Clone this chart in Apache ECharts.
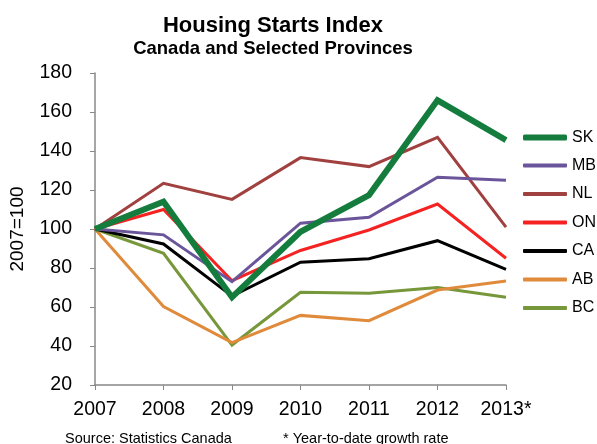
<!DOCTYPE html>
<html>
<head>
<meta charset="utf-8">
<script src="https://cdn.jsdelivr.net/npm/echarts@6/dist/echarts.min.js"></script>
<style>html,body{margin:0;padding:0;background:#fff}#c{width:597px;height:444px}</style>
</head>
<body>
<div id="c"></div>
<script>
var years = ['2007','2008','2009','2010','2011','2012','2013*'];
var SK = [100, 114, 65, 98.6, 117.4, 166, 145.6];
var MB = [100, 97, 73, 103, 106, 126.5, 125];
var NL = [100, 123.4, 115.2, 136.6, 132, 147, 101];
var ON = [100, 110, 73.5, 89, 99.5, 112.8, 85];
var CA = [100, 92.3, 65.6, 83, 84.8, 94, 79.3];
var AB = [100, 60.2, 41.7, 55.7, 53, 68.7, 73.3];
var BC = [100, 87.5, 40.5, 67.5, 67, 70, 65];

var FONT = '"Liberation Sans", Arial, sans-serif';
var COLORS = {SK:'#147c3c', MB:'#6b559a', NL:'#a0413f', ON:'#f52222', CA:'#000000', AB:'#e08a3c', BC:'#77973b'};
function mk(name, data, width, z) {
  return {name: name, type: 'line', data: data, symbol: 'none', z: z,
    lineStyle: {color: COLORS[name], width: width, join: 'miter'}, itemStyle: {color: COLORS[name]}};
}
var legendText = {fontFamily: FONT, fontSize: 16, color: '#000'};
var chart = echarts.init(document.getElementById('c'));
chart.setOption({
  animation: false,
  backgroundColor: '#fff',
  textStyle: {fontFamily: FONT},
  title: [{
    text: 'Housing Starts Index',
    subtext: 'Canada and Selected Provinces',
    left: 268, top: 10, textAlign: 'center',
    itemGap: 2,
    textStyle: {fontFamily: FONT, fontSize: 22, fontWeight: 'bold', color: '#000'},
    subtextStyle: {fontFamily: FONT, fontSize: 18.5, fontWeight: 'bold', color: '#000'}
  }, {
    text: 'Source: Statistics Canada', left: 60, top: 426,
    textStyle: {fontFamily: FONT, fontSize: 14.5, fontWeight: 'normal', color: '#000'}
  }, {
    text: '* Year-to-date growth rate', left: 278, top: 426,
    textStyle: {fontFamily: FONT, fontSize: 14.5, fontWeight: 'normal', color: '#000'}
  }],
  legend: [{
    orient: 'vertical', left: 518, top: 124.5, padding: 5,
    icon: 'roundRect', itemWidth: 44, itemHeight: 6, itemGap: 12.5,
    textStyle: legendText,
    data: ['SK']
  }, {
    orient: 'vertical', left: 518, top: 152.5, padding: 5,
    icon: 'roundRect', itemWidth: 44, itemHeight: 4, itemGap: 12.5,
    textStyle: legendText,
    data: ['MB','NL','ON','CA','AB','BC']
  }],
  grid: {left: 91, right: 91, top: 73, bottom: 59, containLabel: false},
  xAxis: {
    type: 'category', data: years, boundaryGap: false,
    axisLine: {lineStyle: {color: '#888', width: 1.5}},
    axisTick: {show: true, length: 5, alignWithLabel: true, lineStyle: {color: '#888'}},
    axisLabel: {fontFamily: FONT, fontSize: 19.5, color: '#000', margin: 15, interval: 0},
    splitLine: {show: false}
  },
  yAxis: {
    type: 'value', min: 20, max: 180, interval: 20,
    name: '2007=100', nameLocation: 'middle', nameGap: 68, nameRotate: 90,
    nameTextStyle: {fontFamily: FONT, fontSize: 19, color: '#000'},
    axisLine: {show: true, lineStyle: {color: '#888', width: 1.5}},
    axisTick: {show: true, length: 5, lineStyle: {color: '#888'}},
    axisLabel: {fontFamily: FONT, fontSize: 19.5, color: '#000', margin: 23},
    splitLine: {show: false}
  },
  series: [
    mk('BC', BC, 3, 1),
    mk('AB', AB, 3, 2),
    mk('CA', CA, 3, 3),
    mk('ON', ON, 3, 4),
    mk('NL', NL, 3, 5),
    mk('MB', MB, 3, 6),
    mk('SK', SK, 6, 7)
  ]
});
</script>
</body>
</html>
